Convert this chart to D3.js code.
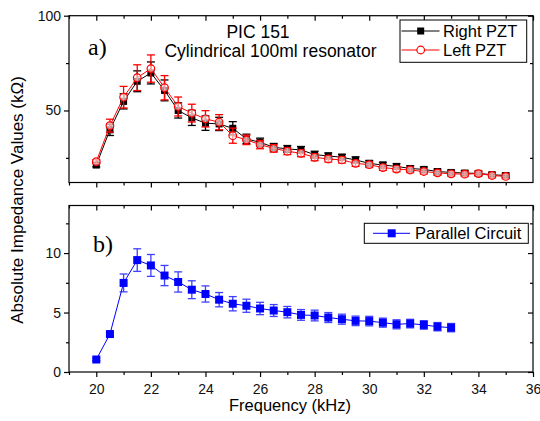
<!DOCTYPE html>
<html><head><meta charset="utf-8">
<script src="https://cdn.jsdelivr.net/npm/d3@7"></script>
<style>
html,body{margin:0;padding:0;background:#fff;}
text{font-family:"Liberation Sans",Arial,sans-serif;}
</style></head>
<body><svg id="c" width="540" height="421"></svg>
<script>
const freqTop = [20,20.5,21,21.5,22,22.5,23,23.5,24,24.5,25,25.5,26,26.5,27,27.5,28,28.5,29,29.5,30,30.5,31,31.5,32,32.5,33,33.5,34,34.5,35];
const rightPZT = [21.2,39.8,54.8,65.4,69.8,60.6,50.0,46.1,43.3,42.9,40.6,35.0,33.2,30.6,29.7,29.2,26.7,26.0,25.3,23.9,22.1,21.2,20.5,19.4,18.9,17.8,17.3,17.0,16.8,16.1,15.7];
const rightErr = [1,3,4,5.5,5.8,5.5,4,4,3.8,3.5,3.5,2.5,2.2,2,1.8,1.8,1.8,1.6,1.6,1.6,1.5,1.5,1.4,1.4,1.3,1.3,1.2,1.2,1.2,1.2,1.2];
const leftPZT = [23.0,42.0,57.0,67.3,72.1,62.0,52.1,48.6,45.6,43.8,36.7,34.5,32.0,30.0,28.5,27.4,25.3,24.4,23.9,22.1,21.4,19.9,19.1,18.6,17.8,17.1,16.6,16.4,16.7,15.7,15.2];
const leftErr = [1,3.4,5.7,6.8,7.2,6.4,5,4.7,4.3,4,4,2.5,2.2,2,1.8,1.8,1.8,1.6,1.6,1.6,1.5,1.5,1.4,1.4,1.3,1.3,1.2,1.2,1.2,1.2,1.2];
const freqBot = [20,20.5,21,21.5,22,22.5,23,23.5,24,24.5,25,25.5,26,26.5,27,27.5,28,28.5,29,29.5,30,30.5,31,31.5,32,32.5,33];
const parallel = [1.05,3.19,7.49,9.41,8.96,8.11,7.57,6.92,6.56,6.08,5.74,5.57,5.34,5.17,5.03,4.80,4.75,4.58,4.44,4.30,4.28,4.15,4.01,4.07,3.96,3.81,3.73];
const parallelErr = [0.1,0.15,0.75,0.95,0.92,0.85,0.85,0.75,0.68,0.6,0.6,0.55,0.52,0.5,0.48,0.45,0.45,0.42,0.42,0.4,0.4,0.38,0.38,0.36,0.36,0.35,0.35];
const xMajorTicks = [20,22,24,26,28,30,32,34,36];
const xMinorTicks = [19,21,23,25,27,29,31,33,35];
const topMajor = [50,100], topMinor = [25,75];
const botMajor = [0,5,10], botMinor = [2.5,7.5,12.5];

const svg = d3.select("#c");
const L = 69, R = 533;
const x = d3.scaleLinear().domain([19,36]).range([L,R]);
const yTop = d3.scaleLinear().domain([12,100]).range([182.5,15.7]);
const yBot = d3.scaleLinear().domain([0,14]).range([372,205.5]);

function frame(y, showXLabels, maj, min){
  const [y0,y1] = y.range(); // bottom, top
  const g = svg.append("g");
  g.append("rect").attr("x",L).attr("y",y1).attr("width",R-L).attr("height",y0-y1)
    .attr("fill","none").attr("stroke","#000").attr("stroke-width",1.2);
  // bottom axis
  const bx = d3.axisBottom(x).tickValues(xMajorTicks.filter(v=>v<36||showXLabels)).tickSize(5).tickSizeOuter(0)
    .tickFormat(showXLabels? d3.format("d") : "");
  const ga = g.append("g").attr("transform",`translate(0,${y0})`).call(bx);
  const bm = d3.axisBottom(x).tickValues(xMinorTicks).tickSize(3).tickFormat("");
  g.append("g").attr("transform",`translate(0,${y0})`).call(bm);
  // top inward
  g.append("g").attr("transform",`translate(0,${y1})`).call(d3.axisBottom(x).tickValues(xMajorTicks).tickSize(5).tickFormat(""));
  g.append("g").attr("transform",`translate(0,${y1})`).call(d3.axisBottom(x).tickValues(xMinorTicks).tickSize(3).tickFormat(""));
  // left
  g.append("g").attr("transform",`translate(${L},0)`).call(d3.axisLeft(y).tickValues(maj).tickSize(5).tickFormat(d3.format("d")));
  g.append("g").attr("transform",`translate(${L},0)`).call(d3.axisLeft(y).tickValues(min).tickSize(3).tickFormat(""));
  // right inward
  g.append("g").attr("transform",`translate(${R},0)`).call(d3.axisLeft(y).tickValues(maj).tickSize(5).tickFormat(""));
  g.append("g").attr("transform",`translate(${R},0)`).call(d3.axisLeft(y).tickValues(min).tickSize(3).tickFormat(""));
  g.selectAll(".domain").remove();
  g.selectAll(".tick line").attr("stroke","#000").attr("stroke-width",1.2);
  g.selectAll(".tick text").attr("font-size",14).attr("fill","#111").attr("font-family","Liberation Sans, Arial, sans-serif");
  return g;
}
const gTop = frame(yTop,false,topMajor,topMinor);
const gBot = frame(yBot,true,botMajor,botMinor);
gBot.selectAll(".tick text").filter(function(){return this.parentNode.parentNode.getAttribute("transform").indexOf("translate(0")===0;}).attr("dy","1.0em");

function series(y, xs, vs, es, color, marker, errOpacity){
  const g = svg.append("g");
  const line = d3.line().x((d,i)=>x(xs[i])).y(d=>y(d));
  g.append("path").datum(vs).attr("d",line).attr("fill","none").attr("stroke",color).attr("stroke-width",1);
  const eb = g.append("g").attr("stroke",color).attr("stroke-width",1.3).attr("opacity",errOpacity);
  vs.forEach((v,i)=>{
    const cx = x(xs[i]), t = y(v+es[i]), b = y(v-es[i]);
    eb.append("line").attr("x1",cx).attr("x2",cx).attr("y1",t).attr("y2",b);
    eb.append("line").attr("x1",cx-4).attr("x2",cx+4).attr("y1",t).attr("y2",t);
    eb.append("line").attr("x1",cx-4).attr("x2",cx+4).attr("y1",b).attr("y2",b);
  });
  vs.forEach((v,i)=>{
    const cx = x(xs[i]), cy = y(v);
    if(marker==="square") g.append("rect").attr("x",cx-3.5).attr("y",cy-3.5).attr("width",7).attr("height",7).attr("fill",color);
    else if(marker==="bigsquare") g.append("rect").attr("x",cx-4).attr("y",cy-4).attr("width",8).attr("height",8).attr("fill",color);
    else g.append("circle").attr("cx",cx).attr("cy",cy).attr("r",3.8).attr("fill","#fff").attr("fill-opacity",0.6).attr("stroke",color).attr("stroke-width",1.2);
  });
}
series(yTop, freqTop, rightPZT, rightErr, "#000", "square", 1);
series(yTop, freqTop, leftPZT, leftErr, "#ff0000", "circle", 1);
series(yBot, freqBot, parallel, parallelErr, "#0000ff", "bigsquare", 0.75);

// texts
svg.append("text").attr("x",258).attr("y",38).attr("text-anchor","middle").attr("font-size",17.5).text("PIC 151");
svg.append("text").attr("x",270.5).attr("y",57).attr("text-anchor","middle").attr("font-size",17.5).text("Cylindrical 100ml resonator");
svg.append("text").attr("x",88).attr("y",55).attr("font-family","Liberation Serif, Times New Roman, serif").attr("font-size",24).style("font-family","Liberation Serif, serif").text("a)");
svg.append("text").attr("x",93).attr("y",251.5).attr("font-size",24).style("font-family","Liberation Serif, serif").text("b)");
svg.append("text").attr("transform","translate(23,200) rotate(-90)").attr("text-anchor","middle").attr("font-size",17).text("Absolute Impedance Values (kΩ)");
svg.append("text").attr("x",290).attr("y",411).attr("text-anchor","middle").attr("font-size",16.5).text("Frequency (kHz)");

// legends
const lg1 = svg.append("g");
lg1.append("rect").attr("x",400).attr("y",20).attr("width",126.7).attr("height",42.3).attr("fill","#fff").attr("stroke","#000").attr("stroke-width",1);
const legItems = [{name:"Right PZT",color:"#000",m:"square",cy:31},{name:"Left PZT",color:"#ff0000",m:"circle",cy:50}];
legItems.forEach(it=>{
  lg1.append("line").attr("x1",401.5).attr("x2",439.5).attr("y1",it.cy).attr("y2",it.cy).attr("stroke",it.color);
  if(it.m==="square") lg1.append("rect").attr("x",420.7-3.5).attr("y",it.cy-3.5).attr("width",7).attr("height",7).attr("fill",it.color);
  else lg1.append("circle").attr("cx",420.7).attr("cy",it.cy).attr("r",3.8).attr("fill","#fff").attr("stroke",it.color).attr("stroke-width",1.2);
  lg1.append("text").attr("x",443).attr("y",it.cy+6).attr("font-size",16.5).text(it.name);
});
const lg2 = svg.append("g");
lg2.append("rect").attr("x",364.3).attr("y",223.3).attr("width",164).attr("height",20).attr("fill","#fff").attr("stroke","#000").attr("stroke-width",1);
lg2.append("line").attr("x1",373).attr("x2",410).attr("y1",233.3).attr("y2",233.3).attr("stroke","#0000ff");
lg2.append("rect").attr("x",391.7-4).attr("y",233.3-4).attr("width",8).attr("height",8).attr("fill","#0000ff");
lg2.append("text").attr("x",415).attr("y",239.3).attr("font-size",16.5).text("Parallel Circuit");
</script></body></html>
